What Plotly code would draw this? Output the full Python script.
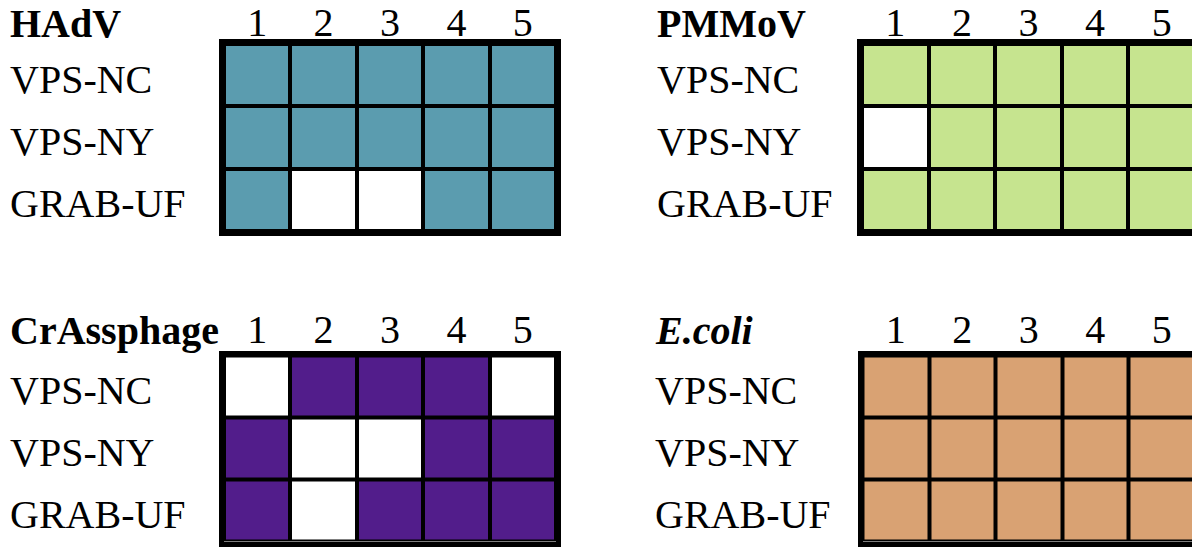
import plotly.graph_objects as go

columns = ["1", "2", "3", "4", "5"]
rows = ["VPS-NC", "VPS-NY", "GRAB-UF"]

panel_titles = ["<b>HAdV</b>", "<b>PMMoV</b>", "<b>CrAssphage</b>", "<b><i>E.coli</i></b>"]
panel_colors = ["#5b9caf", "#c6e48f", "#521d8b", "#d9a273"]

hadv = [[1, 1, 1, 1, 1],
        [1, 1, 1, 1, 1],
        [1, 0, 0, 1, 1]]
pmmov = [[1, 1, 1, 1, 1],
         [0, 1, 1, 1, 1],
         [1, 1, 1, 1, 1]]
crassphage = [[0, 1, 1, 1, 0],
              [1, 0, 0, 1, 1],
              [1, 0, 1, 1, 1]]
ecoli = [[1, 1, 1, 1, 1],
         [1, 1, 1, 1, 1],
         [1, 1, 1, 1, 1]]
panel_data = [hadv, pmmov, crassphage, ecoli]

W, H = 1200, 548
FONT = "Liberation Serif"
FS = 40
OFF = 8  # page body margin offset compensation

# border-centre positions of each grid in window px: (left, right, top, bottom)
grid_px = [(224, 556, 44, 231), (862, 1195, 44, 231),
           (224, 556, 355.5, 541.5), (862.5, 1195, 355.5, 541.5)]
label_x_px = [8, 655, 8, 653]
title_y_px = [23.5, 23.5, 330, 330]
tick_standoff = [-13, -13, -8, -8]

fig = go.Figure()
annotations = []
for i, (z, color, title) in enumerate(zip(panel_data, panel_colors, panel_titles)):
    n = i + 1
    xa = "x" if n == 1 else f"x{n}"
    ya = "y" if n == 1 else f"y{n}"
    fig.add_trace(go.Heatmap(
        z=z, x=columns, y=rows,
        colorscale=[[0, "white"], [1, color]], zmin=0, zmax=1,
        showscale=False, xgap=4, ygap=4, hoverinfo="skip",
        xaxis=xa, yaxis=ya,
    ))
    l, r, t, b = [v - OFF for v in grid_px[i]]
    xk = "xaxis" if n == 1 else f"xaxis{n}"
    yk = "yaxis" if n == 1 else f"yaxis{n}"
    fig.layout[xk] = dict(
        domain=[l / W, r / W], anchor=ya, side="top", automargin=False,
        showline=True, mirror=True, linecolor="black", linewidth=4.5,
        showgrid=False, zeroline=False, ticks="",
        ticklabelstandoff=tick_standoff[i],
        tickfont=dict(family=FONT, size=FS, color="black"),
    )
    fig.layout[yk] = dict(
        domain=[1 - b / H, 1 - t / H], anchor=xa, autorange="reversed",
        automargin=False,
        showline=True, mirror=True, linecolor="black", linewidth=4.5,
        showgrid=False, zeroline=False, ticks="", showticklabels=False,
    )
    for row in rows:
        annotations.append(dict(
            text=row, x=(label_x_px[i] - OFF) / W, xref="paper", y=row, yref=ya,
            xanchor="left", yanchor="middle", showarrow=False, yshift=-4,
            font=dict(family=FONT, size=FS, color="black"),
        ))
    annotations.append(dict(
        text=title, x=(label_x_px[i] - OFF) / W, xref="paper",
        y=1 - (title_y_px[i] - OFF) / H, yref="paper",
        xanchor="left", yanchor="middle", showarrow=False,
        font=dict(family=FONT, size=FS, color="black"),
    ))

fig.update_layout(
    width=W, height=H, margin=dict(l=0, r=0, t=0, b=0, autoexpand=False),
    paper_bgcolor="white", plot_bgcolor="black",
    annotations=annotations, showlegend=False,
)
fig.write_html("out.html")
